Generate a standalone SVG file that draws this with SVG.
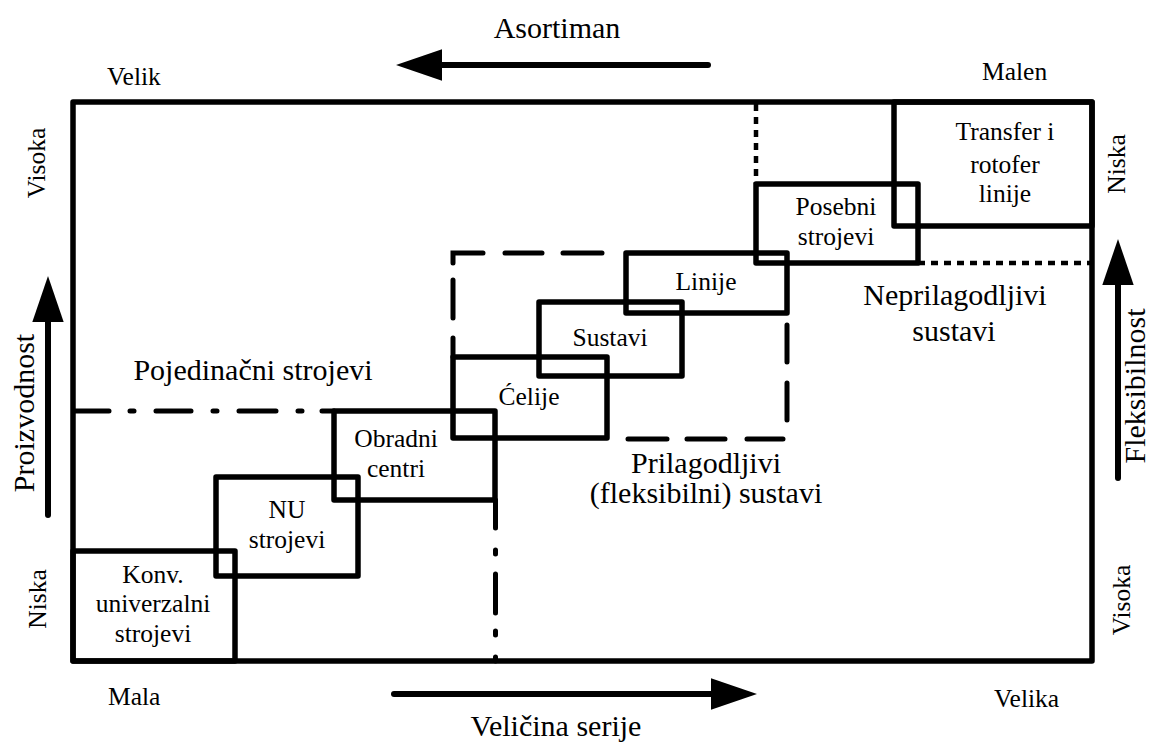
<svg xmlns="http://www.w3.org/2000/svg" width="1153" height="745" viewBox="0 0 1153 745">
<style>
.box{fill:none;stroke:#000;stroke-width:5.5;stroke-linejoin:round}
.dash{fill:none;stroke:#000;stroke-width:5;stroke-linecap:round}
.dot{fill:none;stroke:#000;stroke-width:4.5;stroke-dasharray:7 6}
.shaft{fill:none;stroke:#000;stroke-width:6;stroke-linecap:round}
text{font-family:'Liberation Serif','Times New Roman','DejaVu Serif',serif;fill:#000}
.s{font-size:25.5px}
.b{font-size:30px}
.m{text-anchor:middle}
</style>
<defs>
<marker id="ah" markerUnits="userSpaceOnUse" markerWidth="46" markerHeight="32" viewBox="0 -15 44 30" refX="0" refY="0" orient="auto">
<path d="M0,-15 L44,0 L0,15 Z" fill="#000"/>
</marker>
</defs>
<rect width="1153" height="745" fill="#fff"/>

<g id="frame">
<rect class="box" x="73" y="102" width="1019" height="559"/>
</g>

<g id="connectors">
<path class="dash" d="M453,263 V253 H483 M505,253 H542 M563,253 H602 M453,280 V318 M453,338 V357 M787,325 V362 M787,383 V420 M628,439 H667 M687,439 H725 M747,439 H783"/>
<path class="dash" stroke-linecap="butt" d="M75,411 H109 M156,411 H191 M239,411 H276 M322,411 H334 M130,411 H134 M213,411 H217 M298,411 H302"/>
<path class="dash" stroke-linecap="butt" d="M495.5,500 V528 M495.5,574 V613 M495.5,657 V661 M495.5,550 V554 M495.5,631 V635"/>
<path class="dot" d="M756,104 V184 M918,263 H1090"/>
<path class="shaft" d="M708,65 H442" marker-end="url(#ah)"/>
<path class="shaft" d="M394,694 H711" marker-end="url(#ah)"/>
<path class="shaft" d="M48,515 V322" marker-end="url(#ah)"/>
<path class="shaft" d="M1118,478 V285" marker-end="url(#ah)"/>
</g>

<g id="konv">
<rect class="box" x="73" y="551" width="162" height="110"/>
<text class="s m" x="153" y="583">Konv.</text>
<text class="s m" x="153" y="612">univerzalni</text>
<text class="s m" x="153" y="642">strojevi</text>
</g>
<g id="nu">
<rect class="box" x="216" y="477" width="142" height="99"/>
<text class="s m" x="287" y="518">NU</text>
<text class="s m" x="287" y="548">strojevi</text>
</g>
<g id="obradni">
<rect class="box" x="334" y="411" width="161" height="89"/>
<text class="s m" x="396" y="447">Obradni</text>
<text class="s m" x="396" y="477">centri</text>
</g>
<g id="celije">
<rect class="box" x="453" y="357" width="154" height="81"/>
<text class="s m" x="529" y="405">Ćelije</text>
</g>
<g id="sustavi">
<rect class="box" x="539" y="302" width="143" height="74"/>
<text class="s m" x="610" y="346">Sustavi</text>
</g>
<g id="linije">
<rect class="box" x="626" y="253" width="161" height="60"/>
<text class="s m" x="706" y="290">Linije</text>
</g>
<g id="posebni">
<rect class="box" x="756" y="184" width="162" height="79"/>
<text class="s m" x="836" y="215">Posebni</text>
<text class="s m" x="836" y="245">strojevi</text>
</g>
<g id="transfer">
<rect class="box" x="894" y="102" width="198" height="124"/>
<text class="s m" x="1005" y="140">Transfer i</text>
<text class="s m" x="1005" y="173">rotofer</text>
<text class="s m" x="1005" y="202">linije</text>
</g>

<g id="labels">
<text class="b m" x="557" y="38">Asortiman</text>
<text class="b m" x="556" y="736">Veličina serije</text>
<text class="b m" x="253" y="380">Pojedinačni strojevi</text>
<text class="b m" x="706" y="473">Prilagodljivi</text>
<text class="b m" x="706" y="503">(fleksibilni) sustavi</text>
<text class="b m" x="955" y="305">Neprilagodljivi</text>
<text class="b m" x="954" y="341">sustavi</text>
<text class="s" x="107" y="85">Velik</text>
<text class="s" x="982" y="80">Malen</text>
<text class="s" x="108" y="705">Mala</text>
<text class="s" x="994" y="707">Velika</text>
<text class="s m" transform="translate(45,163) rotate(-90)">Visoka</text>
<text class="s m" transform="translate(46,599) rotate(-90)">Niska</text>
<text class="s m" transform="translate(1125,164) rotate(-90)">Niska</text>
<text class="s m" transform="translate(1130,600) rotate(-90)">Visoka</text>
<text class="b m" transform="translate(34,413) rotate(-90)">Proizvodnost</text>
<text class="b m" transform="translate(1145,386) rotate(-90)">Fleksibilnost</text>
</g>
</svg>
